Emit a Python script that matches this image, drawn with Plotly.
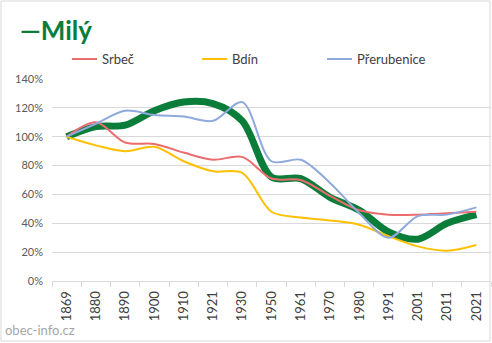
import plotly.graph_objects as go

# Census years and population index (1869 = 100 %)
years = ["1869", "1880", "1890", "1900", "1910", "1921", "1930", "1950",
         "1961", "1970", "1980", "1991", "2001", "2011", "2021"]
mily = [100, 107, 108, 118, 124, 123, 111, 72, 71, 58, 49, 34, 29, 40, 46]
srbec = [100, 110, 96, 95, 89, 84, 86, 71, 70, 59, 49, 46, 46, 47, 48]
bdin = [100, 94, 90, 93, 83, 76, 75, 48, 44, 42, 39, 31, 24, 21, 25]
prerubenice = [100, 109, 118, 115, 114, 111, 124, 83, 84, 68, 47, 30, 45, 46, 51]

series = [
    ("Milý", mily, "#0B7D3B", 7),
    ("Srbeč", srbec, "#EC6C6E", 2),
    ("Bdín", bdin, "#FFC000", 2),
    ("Přerubenice", prerubenice, "#8EA9DB", 2),
]

W, H = 492, 343
L, R, T, B = 52, 1, 79, 62
PW, PH = W - L - R, H - T - B
FONT = "Lato"


def px(x):
    return (x - L) / PW


def py(y):
    return (H - B - y) / PH


fig = go.Figure()
for name, vals, color, width in series:
    fig.add_trace(go.Scatter(
        x=years, y=vals, name=name, mode="lines",
        line=dict(color=color, width=width, shape="spline", smoothing=0.9),
        showlegend=False, hoverinfo="skip",
    ))

shapes = [
    # chart area border
    dict(type="rect", xref="paper", yref="paper",
         x0=px(1), x1=px(490), y0=py(341), y1=py(1),
         line=dict(color="#D9D9D9", width=1), fillcolor="rgba(0,0,0,0)",
         layer="above"),
]
annotations = [
    dict(text="—Milý", xref="paper", yref="paper", x=px(18), y=py(30),
         xanchor="left", yanchor="middle", showarrow=False,
         font=dict(family=FONT, size=26, color="#0B7D3B", weight="bold")),
    dict(text="obec-info.cz", xref="paper", yref="paper", x=px(3), y=py(330),
         xanchor="left", yanchor="middle", showarrow=False,
         font=dict(family=FONT, size=13, color="#A6A6A6")),
]

# legend for the comparison villages
legend_x = [72, 202, 327]
for (name, _, color, _), x0 in zip(series[1:], legend_x):
    shapes.append(dict(type="line", xref="paper", yref="paper",
                       x0=px(x0), x1=px(x0 + 25), y0=py(59), y1=py(59),
                       line=dict(color=color, width=2)))
    annotations.append(dict(text=name, xref="paper", yref="paper",
                            x=px(x0 + 28), y=py(59.5), xanchor="left",
                            yanchor="middle", showarrow=False,
                            font=dict(family=FONT, size=13, color="#404040")))

fig.update_layout(
    width=W, height=H,
    margin=dict(l=L, r=R, t=T, b=B),
    paper_bgcolor="white", plot_bgcolor="white",
    font=dict(family=FONT),
    shapes=shapes, annotations=annotations,
    xaxis=dict(
        type="category", range=[-0.5, 14.5],
        showline=True, linecolor="#D9D9D9", linewidth=1,
        ticks="outside", tickson="boundaries", ticklen=5,
        tickcolor="#D9D9D9", tickangle=-90, ticklabelstandoff=4,
        tickfont=dict(family=FONT, size=13, color="#404040"),
        showgrid=False, zeroline=False, fixedrange=True,
    ),
    yaxis=dict(
        range=[0, 140], dtick=20, ticksuffix="%",
        showgrid=True, gridcolor="#D9D9D9", gridwidth=1,
        zeroline=False, showline=False, ticks="",
        ticklabelstandoff=8,
        tickfont=dict(family=FONT, size=11, color="#595959"),
        fixedrange=True,
    ),
)

fig.write_html("out.html")
